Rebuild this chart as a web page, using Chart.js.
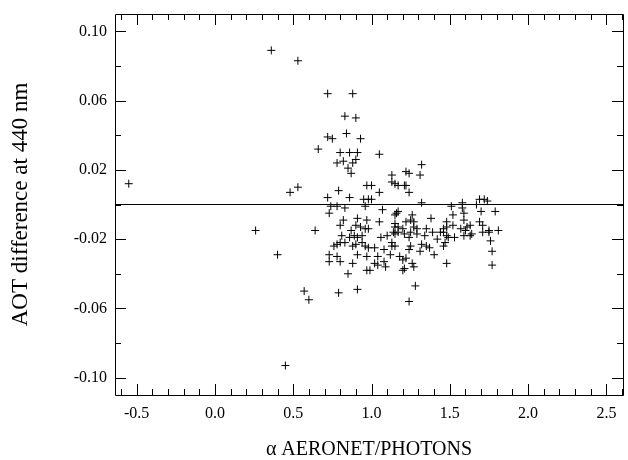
<!DOCTYPE html>
<html>
<head>
<meta charset="utf-8">
<script src="https://cdn.jsdelivr.net/npm/chart.js@4/dist/chart.umd.min.js"></script>
<style>
  html, body { margin: 0; padding: 0; background: #fff; }
  #wrap { width: 628px; height: 460px; }
</style>
</head>
<body>
<div id="wrap"><canvas id="c" width="628" height="460"></canvas></div>
<script>
// Ångström exponent (x) and AOT difference at 440 nm (y)
const alphaValues = [
  0.36, 0.53, 0.72, 0.88, 0.83, 0.90, 0.72, 0.75, 0.84, 0.93,
  0.66, 0.80, 0.86, 0.91, 1.05, 0.78, 0.82, 0.90, 0.88, 0.85,
  0.87, 1.13, 1.13, 1.15, 0.97, 1.00, 0.48, 0.53, 0.79, 1.05,
  0.72, 0.86, 0.95, 0.98, 1.00, 0.74, 0.78, 0.83, 0.96, 1.07,
  0.73, 1.15, 0.82, 0.91, 0.97, 1.05, 0.80, 0.90, 0.64, 0.87,
  0.93, 0.96, 0.98, 1.15, 0.81, 0.86, 0.89, 0.91, 0.94, 1.06,
  1.10, 1.15, 0.80, 0.83, 0.76, 0.78, 0.88, 0.90, 0.96, 0.98,
  1.02, 1.08, 1.13, 0.73, 0.78, 0.91, 0.97, 1.04, 1.12, 1.32,
  1.22, 1.24, 1.31, 1.17, 1.21, 1.22, 1.24, 1.32, 1.51, 1.58,
  1.58, 1.69, 1.72, 1.74, 1.67, 1.16, 1.17, 1.70, 1.79, 1.52,
  1.59, 1.26, 1.15, 1.22, 1.25, 1.27, 1.38, 1.48, 1.59, 1.69,
  1.71, 1.17, 1.20, 1.27, 1.29, 1.35, 1.46, 1.48, 1.52, 1.57,
  1.61, 1.63, 1.14, 1.17, 1.21, 1.25, 1.29, 1.39, 1.44, 1.46,
  1.48, 1.60, 1.64, 1.71, 1.75, 1.81, 1.13, 1.24, 1.34, 1.42,
  1.49, 1.53, 1.76, 1.15, 1.25, 1.32, 1.35, 1.37, 1.46, 1.47,
  1.24, 1.31, 1.77, 1.18, 1.22, 1.26, 1.40, 1.48, 1.77, 1.09,
  1.21, 1.63, 1.59, 1.75, 0.94, 0.73, 0.80, 1.08, 1.20, 0.88,
  1.02, 1.04, 1.27, 0.97, 0.99, 1.20, 0.85, 0.57, 0.60, 0.79,
  0.91, 1.28, 1.24, 0.40, 0.26, 0.45, -0.55
];
const aotDiffValues = [
  0.089, 0.083, 0.064, 0.064, 0.051, 0.050, 0.039, 0.038, 0.041, 0.038,
  0.032, 0.030, 0.030, 0.030, 0.029, 0.024, 0.025, 0.026, 0.024, 0.021,
  0.018, 0.017, 0.013, 0.012, 0.011, 0.011, 0.007, 0.010, 0.008, 0.007,
  0.004, 0.004, 0.003, 0.003, 0.003, -0.001, -0.001, -0.002, -0.001, -0.003,
  -0.005, -0.006, -0.009, -0.008, -0.009, -0.010, -0.012, -0.012, -0.015, -0.015,
  -0.013, -0.014, -0.014, -0.013, -0.018, -0.019, -0.018, -0.019, -0.018, -0.019,
  -0.018, -0.017, -0.022, -0.022, -0.024, -0.023, -0.024, -0.023, -0.024, -0.025,
  -0.025, -0.026, -0.024, -0.029, -0.030, -0.029, -0.030, -0.030, -0.029, 0.023,
  0.019, 0.018, 0.017, 0.011, 0.011, 0.011, 0.007, 0.001, -0.001, 0.001,
  -0.002, 0.003, 0.003, 0.002, 0.000, -0.005, -0.004, -0.004, -0.004, -0.006,
  -0.005, -0.006, -0.011, -0.010, -0.009, -0.010, -0.008, -0.010, -0.009, -0.010,
  -0.012, -0.013, -0.014, -0.013, -0.014, -0.014, -0.014, -0.013, -0.012, -0.014,
  -0.013, -0.012, -0.016, -0.016, -0.017, -0.016, -0.017, -0.016, -0.016, -0.016,
  -0.018, -0.015, -0.017, -0.016, -0.015, -0.015, -0.022, -0.019, -0.018, -0.020,
  -0.019, -0.019, -0.021, -0.024, -0.024, -0.023, -0.024, -0.025, -0.024, -0.022,
  -0.026, -0.027, -0.027, -0.030, -0.031, -0.034, -0.029, -0.034, -0.035, -0.036,
  -0.037, -0.018, -0.018, -0.016, -0.022, -0.033, -0.033, -0.033, -0.032, -0.034,
  -0.034, -0.035, -0.036, -0.038, -0.038, -0.038, -0.040, -0.050, -0.055, -0.051,
  -0.049, -0.047, -0.056, -0.029, -0.015, -0.093, 0.012
];
// Axis ranges and tick steps
const X_MIN = -0.638, X_MAX = 2.606;
const Y_MIN = -0.11, Y_MAX = 0.11;
const X_STEP = 0.1, X_LABEL_STEP = 0.5;
const Y_STEP = 0.02, Y_LABEL_STEP = 0.04, Y_LABEL_BASE = -0.10;
const zeroLineY = [0, 0];

const points = alphaValues.map((a, i) => ({ x: a, y: aotDiffValues[i] }));

const isMultiple = (v, step, base) => {
  const q = (v - base) / step;
  return Math.abs(q - Math.round(q)) < 1e-6;
};
const stepTicks = (min, max, step) => {
  const out = [];
  for (let k = Math.ceil(min / step - 1e-9); k * step <= max + 1e-12; k++) {
    out.push({ value: Math.round(k * step * 1e6) / 1e6 });
  }
  return out;
};

const frameTicks = {
  id: 'frameTicks',
  afterDatasetsDraw(chart) {
    const { ctx, chartArea: a, scales: { x, y } } = chart;
    ctx.save();
    ctx.strokeStyle = '#000';
    ctx.lineWidth = 1;
    ctx.beginPath();
    ctx.rect(Math.round(a.left) + 0.5, Math.round(a.top) + 0.5,
             Math.round(a.right - a.left), Math.round(a.bottom - a.top));
    ctx.stroke();
    ctx.beginPath();
    x.ticks.forEach(t => {
      const px = Math.round(x.getPixelForValue(t.value)) + 0.5;
      const len = isMultiple(t.value, X_LABEL_STEP, 0) ? 11 : 6;
      ctx.moveTo(px, a.bottom); ctx.lineTo(px, a.bottom - len);
      ctx.moveTo(px, a.top); ctx.lineTo(px, a.top + len);
    });
    y.ticks.forEach(t => {
      const py = Math.round(y.getPixelForValue(t.value)) + 0.5;
      const len = isMultiple(t.value, Y_LABEL_STEP, Y_LABEL_BASE) ? 11 : 6;
      ctx.moveTo(a.left, py); ctx.lineTo(a.left + len, py);
      ctx.moveTo(a.right, py); ctx.lineTo(a.right - len, py);
    });
    ctx.stroke();
    ctx.restore();
  }
};

Chart.defaults.color = '#000';
Chart.defaults.font.family = '"Liberation Serif", "Times New Roman", serif';

new Chart(document.getElementById('c'), {
  type: 'scatter',
  data: {
    datasets: [
      {
        data: points,
        pointStyle: 'cross',
        pointRadius: 4,
        pointHoverRadius: 4,
        borderColor: '#000',
        backgroundColor: '#000',
        borderWidth: 1
      },
      {
        type: 'line',
        data: [{ x: X_MIN, y: zeroLineY[0] }, { x: X_MAX, y: zeroLineY[1] }],
        borderColor: '#000',
        borderWidth: 1,
        pointRadius: 0,
        fill: false
      }
    ]
  },
  options: {
    responsive: false,
    animation: false,
    events: [],
    layout: { padding: { top: 14, right: 1, left: 0, bottom: 0 } },
    plugins: { legend: { display: false }, tooltip: { enabled: false } },
    scales: {
      x: {
        type: 'linear',
        min: X_MIN, max: X_MAX,
        grid: { display: false },
        border: { display: false },
        afterBuildTicks: s => { s.ticks = stepTicks(X_MIN, X_MAX, X_STEP); },
        ticks: {
          autoSkip: false,
          maxRotation: 0,
          padding: 1,
          font: { size: 16 },
          callback: v => isMultiple(v, X_LABEL_STEP, 0) ? (Math.round(v * 10) / 10).toFixed(1) : ''
        },
        title: {
          display: true,
          text: 'α AERONET/PHOTONS',
          font: { size: 20 },
          padding: { top: 0, bottom: -2 }
        },
        afterFit: s => { s.height = 65; }
      },
      y: {
        type: 'linear',
        min: Y_MIN, max: Y_MAX,
        grid: { display: false },
        border: { display: false },
        afterBuildTicks: s => { s.ticks = stepTicks(Y_MIN, Y_MAX, Y_STEP); },
        ticks: {
          autoSkip: false,
          padding: 0,
          font: { size: 16 },
          callback: v => isMultiple(v, Y_LABEL_STEP, Y_LABEL_BASE) ? (Math.round(v * 100) / 100).toFixed(2) : ''
        },
        title: {
          display: true,
          text: 'AOT difference at 440 nm',
          font: { size: 23 },
          padding: { top: 7, bottom: 7 }
        },
        afterFit: s => { s.width = 115; }
      }
    }
  },
  plugins: [frameTicks]
});
</script>
</body>
</html>
